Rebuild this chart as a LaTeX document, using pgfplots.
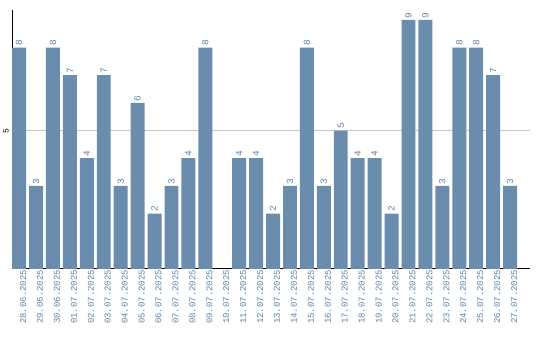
\documentclass[border=0pt]{standalone}
\usepackage{pgfplots}
\pgfplotsset{compat=1.18}
\usepackage{fontspec}
\setmainfont{Liberation Sans}
\newfontfamily\monofont{Liberation Mono}
\definecolor{barblue}{HTML}{6A8CAD}
\definecolor{txtblue}{HTML}{5F82A8}
\begin{document}
\begin{tikzpicture}
\path (-10pt,-70pt) rectangle (530pt,270pt);
\begin{axis}[
  at={(0pt,0pt)}, anchor=south west,
  scale only axis, width=520pt, height=260pt,
  xmin=-0.41, xmax=30.18, ymin=0, ymax=9.36,
  axis lines=left,
  x axis line style={-, black, line width=1.2pt},
  y axis line style={-, black, line width=0.9pt},
  ybar, bar width=14pt,
  ytick={5}, ymajorgrids, grid style={gray!45, line width=0.8pt},
  major tick length=0pt,
  yticklabel style={rotate=90, font=\monofont\fontsize{8}{8}\selectfont, anchor=south, xshift=-1pt},
  /pgf/number format/assume math mode=true,
  xtick={0,...,29},
  xticklabels={28.06.2025,29.06.2025,30.06.2025,01.07.2025,02.07.2025,03.07.2025,04.07.2025,05.07.2025,06.07.2025,07.07.2025,08.07.2025,09.07.2025,10.07.2025,11.07.2025,12.07.2025,13.07.2025,14.07.2025,15.07.2025,16.07.2025,17.07.2025,18.07.2025,19.07.2025,20.07.2025,21.07.2025,22.07.2025,23.07.2025,24.07.2025,25.07.2025,26.07.2025,27.07.2025},
  xticklabel style={rotate=90, anchor=east, font=\monofont\fontsize{9}{9}\selectfont, text=txtblue, inner sep=1pt, yshift=-4pt},
  nodes near coords,
  every node near coord/.append style={rotate=90, anchor=west, font=\monofont\fontsize{9.5}{9.5}\selectfont, text=txtblue, inner sep=1.5pt},
  clip=false,
]
\addplot[fill=barblue, draw=none] coordinates {
(0,8) (1,3) (2,8) (3,7) (4,4) (5,7) (6,3) (7,6) (8,2) (9,3) (10,4) (11,8)
(13,4) (14,4) (15,2) (16,3) (17,8) (18,3) (19,5) (20,4) (21,4) (22,2)
(23,9) (24,9) (25,3) (26,8) (27,8) (28,7) (29,3)};
\end{axis}
\end{tikzpicture}
\end{document}
